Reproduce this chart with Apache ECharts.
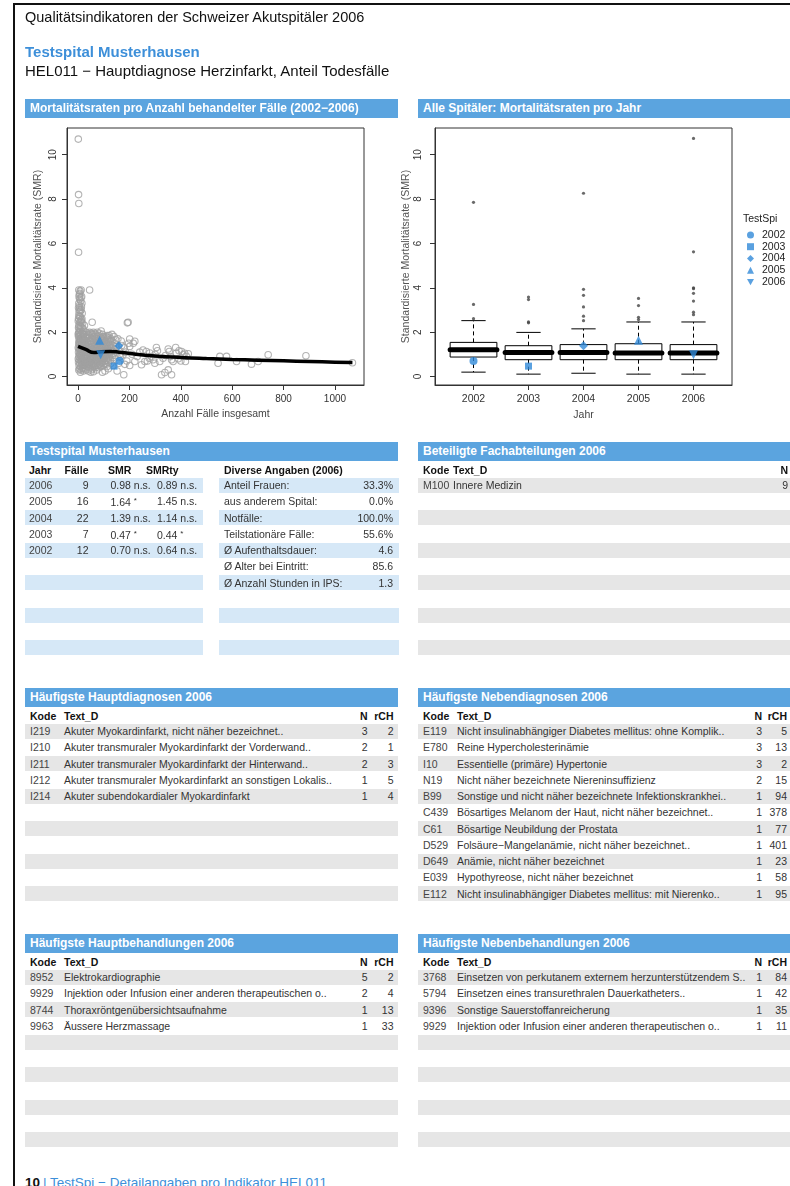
<!DOCTYPE html>
<html>
<head>
<meta charset="utf-8">
<title>HEL011 – Testspital Musterhausen</title>
<script src="https://cdn.jsdelivr.net/npm/echarts@6/dist/echarts.min.js"></script>
<style>
  html, body { margin: 0; padding: 0; background: #fff; }
  body { font-family: "Liberation Sans", Arial, Helvetica, sans-serif; color: #222; }
  #page { position: relative; width: 790px; height: 1186px; overflow: hidden; background: #fff; }
  #page div { position: absolute; white-space: nowrap; }
  .bar { background: #5ba4df; color: #fff; font-weight: bold; font-size: 12px; height: 19px; line-height: 19px; padding-left: 5px; box-sizing: border-box; }
  .t { font-size: 10.5px; line-height: 14px; color: #333; }
  .star { font-size: 8px; vertical-align: 3px; }
  #charts { left: 0; top: 0; width: 790px; height: 440px; }
</style>
</head>
<body>
<div id="page">
  <div id="charts"></div>
</div>
<script>
// ---------- page texts ----------
const pageTitle = 'Qualitätsindikatoren der Schweizer Akutspitäler 2006';
const hospitalName = 'Testspital Musterhausen';
const indicatorTitle = 'HEL011 − Hauptdiagnose Herzinfarkt, Anteil Todesfälle';
const footerPage = '10';
const footerText = '| TestSpi − Detailangaben pro Indikator HEL011';

// ---------- TestSpi per year ----------
const spitalJahre = ['2006', '2005', '2004', '2003', '2002'];
const spitalFaelle = [9, 16, 22, 7, 12];
const spitalSMR = ['0.98', '1.64', '1.39', '0.47', '0.70'];
const spitalSMRflag = ['n.s.', '*', 'n.s.', '*', 'n.s.'];
const spitalSMRty = ['0.89', '1.45', '1.14', '0.44', '0.64'];
const spitalSMRtyFlag = ['n.s.', 'n.s.', 'n.s.', '*', 'n.s.'];

const diverseLabels = ['Anteil Frauen:', 'aus anderem Spital:', 'Notfälle:', 'Teilstationäre Fälle:', 'Ø Aufenthaltsdauer:', 'Ø Alter bei Eintritt:', 'Ø Anzahl Stunden in IPS:'];
const diverseValues = ['33.3%', '0.0%', '100.0%', '55.6%', '4.6', '85.6', '1.3'];

const fachKode = ['M100'];
const fachText = ['Innere Medizin'];
const fachN = [9];

const hdKode = ['I219', 'I210', 'I211', 'I212', 'I214'];
const hdText = ['Akuter Myokardinfarkt, nicht näher bezeichnet..', 'Akuter transmuraler Myokardinfarkt der Vorderwand..', 'Akuter transmuraler Myokardinfarkt der Hinterwand..', 'Akuter transmuraler Myokardinfarkt an sonstigen Lokalis..', 'Akuter subendokardialer Myokardinfarkt'];
const hdN = [3, 2, 2, 1, 1];
const hdRCH = [2, 1, 3, 5, 4];

const ndKode = ['E119', 'E780', 'I10', 'N19', 'B99', 'C439', 'C61', 'D529', 'D649', 'E039', 'E112'];
const ndText = ['Nicht insulinabhängiger Diabetes mellitus: ohne Komplik..', 'Reine Hypercholesterinämie', 'Essentielle (primäre) Hypertonie', 'Nicht näher bezeichnete Niereninsuffizienz', 'Sonstige und nicht näher bezeichnete Infektionskrankhei..', 'Bösartiges Melanom der Haut, nicht näher bezeichnet..', 'Bösartige Neubildung der Prostata', 'Folsäure−Mangelanämie, nicht näher bezeichnet..', 'Anämie, nicht näher bezeichnet', 'Hypothyreose, nicht näher bezeichnet', 'Nicht insulinabhängiger Diabetes mellitus: mit Nierenko..'];
const ndN = [3, 3, 3, 2, 1, 1, 1, 1, 1, 1, 1];
const ndRCH = [5, 13, 2, 15, 94, 378, 77, 401, 23, 58, 95];

const hbKode = ['8952', '9929', '8744', '9963'];
const hbText = ['Elektrokardiographie', 'Injektion oder Infusion einer anderen therapeutischen o..', 'Thoraxröntgenübersichtsaufnahme', 'Äussere Herzmassage'];
const hbN = [5, 2, 1, 1];
const hbRCH = [2, 4, 13, 33];

const nbKode = ['3768', '5794', '9396', '9929'];
const nbText = ['Einsetzen von perkutanem externem herzunterstützendem S..', 'Einsetzen eines transurethralen Dauerkatheters..', 'Sonstige Sauerstoffanreicherung', 'Injektion oder Infusion einer anderen therapeutischen o..'];
const nbN = [1, 1, 1, 1];
const nbRCH = [84, 42, 35, 11];

// ---------- chart data ----------
const tsYears = ['2002', '2003', '2004', '2005', '2006'];
const tsSMR = [0.70, 0.47, 1.39, 1.64, 0.98];
const tsCases = [162, 140, 159, 84, 88];

// all hospitals: [cases, SMR]
const allHospitals = [
  [1,10.7],[2,8.2],[3,7.8],[2,5.6],[45,3.9],[55,2.45],[195,2.45],
  [3,3.9],[8,3.85],[12,3.9],[5,3.7],[14,3.6],[6,3.5],[10,3.4],[3,3.3],[15,3.3],[7,3.1],[12,3.0],[4,2.9],[16,2.85],
  [9,2.7],[2,2.6],[13,2.55],[6,2.45],[18,2.4],[3,2.3],[11,2.25],[8,2.1],[20,2.15],[4,2.0],[15,1.95],[7,1.85],
  [22,1.9],[2,1.8],[12,1.75],[5,1.7],[18,1.65],[9,1.6],[25,1.6],[3,1.5],[14,1.5],[6,1.45],[20,1.4],[10,1.35],
  [28,1.35],[4,1.25],[16,1.25],[8,1.2],[24,1.2],[2,1.1],[12,1.1],[19,1.05],[6,1.0],[30,1.0],[14,0.95],[3,0.9],
  [22,0.9],[9,0.85],[17,0.8],[5,0.75],[26,0.75],[11,0.7],[2,0.65],[20,0.62],[7,0.6],[15,0.55],[4,0.5],[24,0.5],
  [10,0.45],[18,0.4],[6,0.35],[13,0.3],[21,0.25],[9,0.2],[3,0.3],[1,1.3],[1,0.8],[2,2.2],[5,3.0],[8,2.3],
  [11,1.9],[16,0.35],[19,1.8],[23,2.05],[27,1.1],[29,0.6],[4,1.6],[7,1.05],[13,1.45],[17,2.0],[21,1.25],
  [32,2.0],[38,1.9],[45,2.0],[52,1.95],[60,2.0],[68,1.9],[75,2.0],[82,1.95],[90,2.05],[35,1.7],[42,1.75],
  [50,1.6],[58,1.7],[65,1.8],[72,1.6],[80,1.7],[88,1.75],[95,1.6],[102,1.7],[110,1.8],[118,1.75],[125,1.6],
  [30,1.5],[40,1.45],[48,1.3],[55,1.5],[62,1.35],[70,1.45],[78,1.3],[86,1.4],[94,1.25],[100,1.45],[108,1.35],
  [115,1.2],[122,1.4],[130,1.3],[138,1.25],[33,1.15],[44,1.1],[53,1.2],[61,1.0],[69,1.15],[77,1.05],[85,1.1],
  [92,1.0],[99,1.15],[107,1.05],[114,0.95],[121,1.1],[129,1.0],[36,0.9],[46,0.85],[54,0.95],[63,0.8],[71,0.9],
  [79,0.75],[87,0.85],[96,0.8],[104,0.9],[112,0.75],[34,0.7],[43,0.6],[51,0.65],[59,0.55],[67,0.7],[74,0.6],
  [83,0.55],[91,0.65],[98,0.5],[106,0.6],[38,0.45],[47,0.4],[56,0.35],[64,0.45],[73,0.3],[81,0.4],[40,0.25],
  [50,0.2],[60,0.22],[95,0.2],[105,0.25],[118,0.35],[128,0.6],[135,0.85],[142,1.5],[148,1.65],[140,1.8],
  [132,1.9],[36,1.25],[41,1.05],[57,1.1],[66,1.25],[76,1.5],[84,0.95],[93,1.35],[103,1.55],[111,1.15],
  [117,0.85],[126,0.75],[31,0.8],[39,0.55],[49,0.75],[58,0.9],[68,0.5],[78,0.95],[89,0.45],[97,1.05],[136,0.5],
  [3,2.75],[5,2.15],[7,1.55],[9,1.25],[11,0.95],[13,0.65],[15,2.6],[17,1.15],[19,0.5],[21,1.7],[23,0.35],
  [25,2.3],[27,0.9],[29,1.75],[31,0.3],[33,1.35],[35,0.6],[37,1.55],[39,1.2],[41,0.7],[43,1.85],[45,0.5],
  [47,1.6],[49,1.0],[51,0.3],[53,1.45],[55,0.8],[57,1.9],[59,1.25],[61,0.6],[63,1.55],[65,1.05],[67,0.4],
  [69,1.7],[71,1.25],[73,0.75],[75,1.4],[77,0.5],[79,1.15],[81,1.85],[83,0.8],[85,1.3],[87,0.6],[89,1.55],
  [91,1.15],[93,0.7],[95,1.9],[97,1.3],[99,0.9],[101,1.2],[103,0.55],[105,1.75],[107,1.4],[109,0.95],[111,1.55],
  [113,0.45],[115,1.65],[117,1.25],[119,0.65],[121,1.85],[123,0.9],[125,1.45],[127,1.15],[131,1.6],[133,0.95],
  [137,1.4],[139,1.05],[143,1.2],[146,0.95],[150,1.35],
  [2,1.95],[4,1.4],[6,2.0],[8,0.95],[10,1.7],[12,2.45],[14,0.75],[16,1.55],[18,1.05],[20,1.9],[22,0.7],
  [24,1.5],[26,1.3],[28,0.55],[30,1.65],[32,1.25],[34,0.95],[36,1.8],[38,0.7],[40,1.35],[42,1.0],[44,1.6],
  [46,0.65],[48,1.95],[50,1.15],[52,0.55],[54,1.7],[56,1.25],[58,0.45],[60,1.55],[62,0.85],[64,1.95],[66,1.15],
  [68,0.75],[70,1.35],[72,1.0],[74,1.8],[76,0.85],[78,1.6],[80,1.2],[82,0.5],[84,1.5],[86,1.05],[88,0.8],
  [90,1.4],[92,1.7],[94,0.6],[96,1.25],[98,1.8],[100,0.95],[102,1.35],[104,0.7],[106,1.6],[108,1.1],[110,0.55],
  [112,1.45],[114,1.85],[116,1.0],[118,1.55],[120,0.8],[124,1.25],[128,1.7],[134,1.15],[5,3.2],[9,2.95],
  [11,3.55],[13,3.15],[4,3.6],[7,3.75],[10,2.5],[16,2.2],[6,2.7],[1,2.5],[2,3.1],[1,1.9],
  [192,2.42],[197,1.5],[201,1.69],[221,1.59],[215,1.5],[201,1.36],[175,0.98],[201,0.5],[221,0.68],[178,0.08],
  [253,1.2],[266,1.13],[279,1.06],[260,0.68],[247,0.53],[277,0.83],[305,1.31],[309,1.16],[292,0.76],[299,0.6],
  [318,0.68],[351,1.24],[355,1.13],[331,0.83],[364,0.76],[370,0.68],[380,1.31],[383,1.06],[393,1.16],[403,1.13],
  [409,0.98],[418,0.68],[422,0.91],[429,1.03],[325,0.08],[338,0.18],[351,0.3],[364,0.08],[160,1.2],[165,0.9],
  [170,1.4],[185,1.1],[190,0.7],[155,1.7],[162,1.0],[180,1.3],[210,1.0],[230,0.9],[240,1.1],[270,0.7],[285,0.9],
  [300,1.0],[340,0.95],[360,0.9],[390,0.8],[400,0.7],[415,1.05],[152,0.25],[158,0.6],[168,1.6],[182,0.55],
  [545,0.6],[552,0.91],[578,0.91],[617,0.68],[675,0.56],[701,0.68],[740,0.98],[887,0.94],[1068,0.62]
];

// smoothed trend of SMR over number of cases
const trendLine = [[0,1.36],[30,1.22],[62,1.08],[90,1.12],[125,1.13],[160,1.1],[200,1.04],[300,0.93],[400,0.86],[500,0.81],[600,0.77],[700,0.74],[800,0.71],[900,0.68],[1000,0.65],[1068,0.63]];

// box plot statistics per year
const boxYears = ['2002', '2003', '2004', '2005', '2006'];
const boxLow  = [0.20, 0.11, 0.15, 0.11, 0.11];
const boxQ1   = [0.88, 0.76, 0.76, 0.76, 0.76];
const boxMed  = [1.21, 1.09, 1.09, 1.06, 1.06];
const boxQ3   = [1.54, 1.39, 1.44, 1.48, 1.44];
const boxHigh = [2.52, 1.99, 2.15, 2.46, 2.46];
const boxOutliers = [
  [2.61, 3.25, 7.85],
  [2.42, 2.46, 3.47, 3.58],
  [2.52, 2.72, 3.14, 3.66, 3.93, 8.26],
  [2.57, 2.67, 3.20, 3.52],
  [2.79, 2.90, 3.40, 3.75, 3.96, 4.00, 5.62, 10.73]
];

const yTicks = [0, 2, 4, 6, 8, 10];
const xTicksCases = [0, 200, 400, 600, 800, 1000];
const xTicksYears = [1, 2, 3, 4, 5];

// ---------- page layout helpers ----------
const page = document.getElementById('page');
const BLUE_BAND = '#d6e8f7';
const GRAY_BAND = '#e6e6e6';
const PITCH = 16.27;

function el(cls, css, text) {
  const d = document.createElement('div');
  if (cls) d.className = cls;
  Object.assign(d.style, css);
  if (text != null) d.textContent = text;
  page.appendChild(d);
  return d;
}
function bar(x, y, w, text) {
  el('bar', { left: x + 'px', top: y + 'px', width: w + 'px' }, text);
}
function band(x0, x1, yc, color) {
  el('', { left: x0 + 'px', top: (yc - 7.5) + 'px', width: (x1 - x0) + 'px', height: '15px', background: color });
}
function cell(x, yc, s, align, opt) {
  opt = opt || {};
  const st = { top: (yc - 7) + 'px' };
  if (align === 'right') { st.left = (x - 300) + 'px'; st.width = '300px'; st.textAlign = 'right'; }
  else st.left = x + 'px';
  if (opt.bold) { st.fontWeight = 'bold'; st.color = '#111'; }
  if (opt.color) st.color = opt.color;
  return el('t', st, s);
}
// value followed by its significance flag ("n.s." or a raised star)
function smrCell(x, yc, value, flag) {
  const d = cell(x, yc, value + ' ', 'left');
  const s = document.createElement('span');
  s.textContent = flag;
  if (flag === '*') s.className = 'star';
  d.appendChild(s);
}
function bands(x0, x1, firstY, color) {
  for (let i = 0; i < 11; i += 2) band(x0, x1, firstY + i * PITCH, color);
}
// table with Kode / Text_D / N / rCH columns
function codeTable(cols, top, kode, text, n, rch) {
  const hy = top + 27.5, fy = top + 43;
  bands(cols.x0, cols.x1, fy, GRAY_BAND);
  cell(cols.kode, hy, 'Kode', 'left', { bold: true });
  cell(cols.text, hy, 'Text_D', 'left', { bold: true });
  cell(cols.n, hy, 'N', 'right', { bold: true });
  cell(cols.rch, hy, 'rCH', 'right', { bold: true });
  for (let i = 0; i < kode.length; i++) {
    const y = fy + i * PITCH;
    cell(cols.kode, y, kode[i], 'left', { color: '#444' });
    cell(cols.text, y, text[i], 'left');
    cell(cols.n, y, String(n[i]), 'right');
    cell(cols.rch, y, String(rch[i]), 'right');
  }
}

// frame and page headings
el('', { left: '13px', top: '3px', width: '777px', height: '2px', background: '#111' });
el('', { left: '13px', top: '3px', width: '2px', height: '1183px', background: '#111' });
el('', { left: '25px', top: '9px', fontSize: '14.5px', lineHeight: '17px', color: '#111' }, pageTitle);
el('', { left: '25px', top: '43px', fontSize: '15px', lineHeight: '17px', fontWeight: 'bold', color: '#3d8fd9' }, hospitalName);
el('', { left: '25px', top: '62px', fontSize: '15px', lineHeight: '17px', color: '#111' }, indicatorTitle);

// section bars
bar(25, 99, 373, 'Mortalitätsraten pro Anzahl behandelter Fälle (2002−2006)');
bar(418, 99, 372, 'Alle Spitäler: Mortalitätsraten pro Jahr');
bar(25, 442, 373, hospitalName);
bar(418, 442, 372, 'Beteiligte Fachabteilungen 2006');
bar(25, 688, 373, 'Häufigste Hauptdiagnosen 2006');
bar(418, 688, 372, 'Häufigste Nebendiagnosen 2006');
bar(25, 934, 373, 'Häufigste Hauptbehandlungen 2006');
bar(418, 934, 372, 'Häufigste Nebenbehandlungen 2006');

// TestSpi per year table
(function () {
  const hy = 469.5, fy = 485;
  bands(25, 203, fy, BLUE_BAND);
  bands(219, 399, fy, BLUE_BAND);
  cell(29, hy, 'Jahr', 'left', { bold: true });
  cell(88.5, hy, 'Fälle', 'right', { bold: true });
  cell(108, hy, 'SMR', 'left', { bold: true });
  cell(146, hy, 'SMRty', 'left', { bold: true });
  cell(224, hy, 'Diverse Angaben (2006)', 'left', { bold: true });
  for (let i = 0; i < spitalJahre.length; i++) {
    const y = fy + i * PITCH;
    cell(29, y, spitalJahre[i], 'left', { color: '#444' });
    cell(88.5, y, String(spitalFaelle[i]), 'right');
    smrCell(110.5, y, spitalSMR[i], spitalSMRflag[i]);
    smrCell(157, y, spitalSMRty[i], spitalSMRtyFlag[i]);
  }
  for (let i = 0; i < diverseLabels.length; i++) {
    const y = fy + i * PITCH;
    cell(224, y, diverseLabels[i], 'left');
    cell(393, y, diverseValues[i], 'right');
  }
})();

// departments table
(function () {
  const hy = 469.5, fy = 485;
  bands(418, 790, fy, GRAY_BAND);
  cell(423, hy, 'Kode', 'left', { bold: true });
  cell(453, hy, 'Text_D', 'left', { bold: true });
  cell(788, hy, 'N', 'right', { bold: true });
  for (let i = 0; i < fachKode.length; i++) {
    const y = fy + i * PITCH;
    cell(423, y, fachKode[i], 'left', { color: '#444' });
    cell(453, y, fachText[i], 'left');
    cell(788, y, String(fachN[i]), 'right');
  }
})();

const leftCols = { x0: 25, x1: 398, kode: 30, text: 64, n: 367.5, rch: 393.5 };
const rightCols = { x0: 418, x1: 790, kode: 423, text: 457, n: 762, rch: 787 };
codeTable(leftCols, 688, hdKode, hdText, hdN, hdRCH);
codeTable(rightCols, 688, ndKode, ndText, ndN, ndRCH);
codeTable(leftCols, 934, hbKode, hbText, hbN, hbRCH);
codeTable(rightCols, 934, nbKode, nbText, nbN, nbRCH);

// footer
el('', { left: '25px', top: '1175px', fontSize: '13.5px', lineHeight: '16px', color: '#111', fontWeight: 'bold' }, footerPage);
el('', { left: '43px', top: '1175px', fontSize: '13.5px', lineHeight: '16px', color: '#3d8fd9' }, footerText);

// ---------- charts ----------
const FONT = '"Liberation Sans", Arial, sans-serif';
const MARK_BLUE = '#3189d8';
const markerSymbols = ['circle', 'rect', 'diamond', 'triangle', 'path://M0,0L10,0L5,9Z'];
const markerSizes = [8, 7, 9, 9, 9];

const chart = echarts.init(document.getElementById('charts'), null, { renderer: 'canvas', width: 790, height: 440 });

function valueXAxis(grid, min, max, ticks, name, fmt, size) {
  return {
    gridIndex: grid, type: 'value', min: min, max: max,
    axisLine: { show: true, onZero: false, lineStyle: { color: '#333', width: 1 } },
    axisTick: { show: true, customValues: ticks, length: 5, lineStyle: { color: '#333' } },
    axisLabel: { customValues: ticks, margin: 9, fontFamily: FONT, fontSize: size, color: '#333', formatter: fmt },
    splitLine: { show: false },
    name: name, nameLocation: 'middle', nameGap: 24,
    nameTextStyle: { fontFamily: FONT, fontSize: 10.5, color: '#444' }
  };
}
function smrYAxis(grid, labelMargin, nameGap) {
  return {
    gridIndex: grid, type: 'value', min: -0.38, max: 11.2,
    axisLine: { show: true, onZero: false, lineStyle: { color: '#333', width: 1 } },
    axisTick: { show: true, customValues: yTicks, length: 5, lineStyle: { color: '#333' } },
    axisLabel: { customValues: yTicks, rotate: 90, margin: labelMargin, fontFamily: FONT, fontSize: 10, color: '#333' },
    splitLine: { show: false },
    name: 'Standardisierte Mortalitätsrate (SMR)', nameLocation: 'middle', nameGap: nameGap,
    nameTextStyle: { fontFamily: FONT, fontSize: 10.5, color: '#555' }
  };
}

const series = [];
// all hospitals as open grey circles
series.push({
  type: 'scatter', xAxisIndex: 0, yAxisIndex: 0, data: allHospitals, symbol: 'circle', symbolSize: 6.5,
  itemStyle: { color: 'transparent', borderColor: '#a0a0a0', borderWidth: 1.1 }, silent: true, z: 2
});
// smoothed trend
series.push({
  type: 'line', xAxisIndex: 0, yAxisIndex: 0, data: trendLine, smooth: true, showSymbol: false,
  lineStyle: { color: '#000', width: 3.5 }, silent: true, z: 3
});
// boxes
series.push({
  type: 'custom', xAxisIndex: 1, yAxisIndex: 1,
  data: boxYears.map((y, i) => [i + 1, boxLow[i], boxQ1[i], boxMed[i], boxQ3[i], boxHigh[i]]),
  encode: { x: 0, y: [1, 2, 3, 4, 5] },
  silent: true, z: 2,
  renderItem: function (params, api) {
    const x = api.value(0);
    const unit = api.size([1, 0])[0];
    const hw = unit * 0.425, cw = hw * 0.52;
    const lo = api.coord([x, api.value(1)]);
    const q1 = api.coord([x, api.value(2)]);
    const md = api.coord([x, api.value(3)]);
    const q3 = api.coord([x, api.value(4)]);
    const hi = api.coord([x, api.value(5)]);
    const cx = lo[0];
    const solid = { stroke: '#000', lineWidth: 1, fill: null };
    const dashed = { stroke: '#000', lineWidth: 1, lineDash: [4, 3], fill: null };
    return {
      type: 'group', children: [
        { type: 'line', shape: { x1: cx, y1: q3[1], x2: cx, y2: hi[1] }, style: dashed },
        { type: 'line', shape: { x1: cx, y1: q1[1], x2: cx, y2: lo[1] }, style: dashed },
        { type: 'line', shape: { x1: cx - cw, y1: hi[1], x2: cx + cw, y2: hi[1] }, style: solid },
        { type: 'line', shape: { x1: cx - cw, y1: lo[1], x2: cx + cw, y2: lo[1] }, style: solid },
        { type: 'rect', shape: { x: cx - hw, y: q3[1], width: 2 * hw, height: q1[1] - q3[1] }, style: { stroke: '#000', lineWidth: 1, fill: null } },
        { type: 'line', shape: { x1: cx - hw, y1: md[1], x2: cx + hw, y2: md[1] }, style: { stroke: '#000', lineWidth: 5, lineCap: 'round' } }
      ]
    };
  }
});
// outliers
const outlierPts = [];
boxOutliers.forEach((arr, i) => arr.forEach(v => outlierPts.push([i + 1, v])));
series.push({
  type: 'scatter', xAxisIndex: 1, yAxisIndex: 1, data: outlierPts, symbol: 'circle', symbolSize: 3.2,
  itemStyle: { color: '#444' }, silent: true, z: 3
});
// TestSpi markers in both panels
tsYears.forEach((yr, i) => {
  series.push({
    name: yr, type: 'scatter', xAxisIndex: 0, yAxisIndex: 0, data: [[tsCases[i], tsSMR[i]]],
    symbol: markerSymbols[i], symbolSize: markerSizes[i], itemStyle: { color: MARK_BLUE }, z: 5
  });
  series.push({
    name: yr, type: 'scatter', xAxisIndex: 1, yAxisIndex: 1, data: [[i + 1, tsSMR[i]]],
    symbol: markerSymbols[i], symbolSize: markerSizes[i], itemStyle: { color: MARK_BLUE }, z: 5
  });
});

chart.setOption({
  animation: false,
  textStyle: { fontFamily: FONT },
  grid: [
    { left: 67, top: 128, width: 297, height: 257, show: true, borderColor: '#333', borderWidth: 1, backgroundColor: 'transparent' },
    { left: 435, top: 128, width: 297, height: 257, show: true, borderColor: '#333', borderWidth: 1, backgroundColor: 'transparent' }
  ],
  xAxis: [
    valueXAxis(0, -43, 1113, xTicksCases, 'Anzahl Fälle insgesamt', v => String(v), 10),
    valueXAxis(1, 0.3, 5.7, xTicksYears, 'Jahr', v => boxYears[Math.round(v) - 1] || '', 10.5)
  ],
  yAxis: [smrYAxis(0, 9, 23), smrYAxis(1, 12, 22)],
  legend: {
    data: tsYears, orient: 'vertical', left: 747, top: 229, itemWidth: 7, itemHeight: 7, itemGap: 0,
    padding: 0, selectedMode: false,
    textStyle: { fontFamily: FONT, fontSize: 10.5, color: '#222', lineHeight: 11.8, padding: [0, 0, 0, 3] }
  },
  graphic: [
    { type: 'text', left: 743, top: 214, style: { text: 'TestSpi', font: '10.5px ' + FONT, fill: '#222' } }
  ],
  series: series
});
</script>
</body>
</html>
